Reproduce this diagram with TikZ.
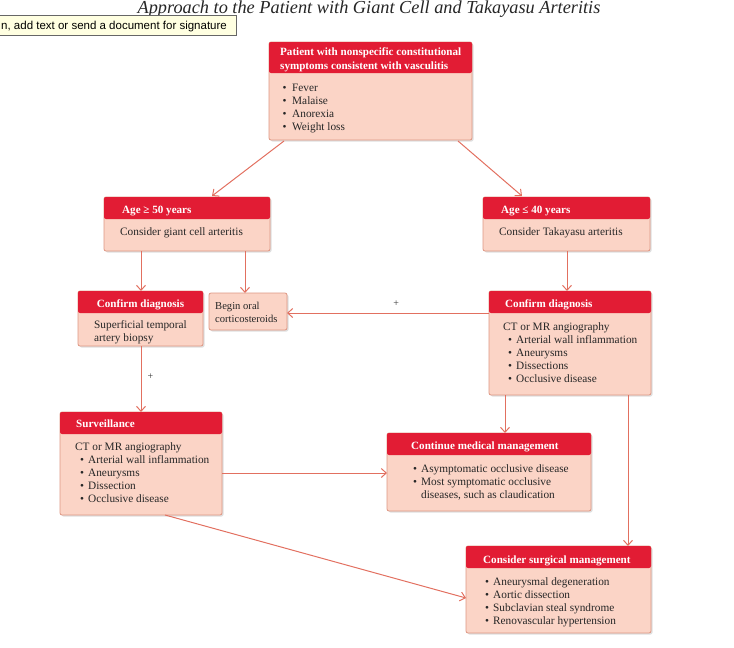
\documentclass[tikz,border=0pt]{standalone}
\usepackage{fontspec}
\setmainfont{Liberation Serif}
\newfontfamily\tipfont{Liberation Sans}
\usetikzlibrary{arrows.meta,shadows,calc}
\definecolor{hdr}{RGB}{226,28,52}
\definecolor{bodyfill}{RGB}{251,212,198}
\definecolor{bdr}{RGB}{222,150,130}
\definecolor{arr}{RGB}{226,112,96}
\definecolor{tipfill}{RGB}{255,255,225}
\newcommand\bul{\makebox[8pt][l]{\textbullet}}
\newcommand\tbul{\makebox[9.5pt][l]{\textbullet}}
\newcommand\sbul{\hspace*{5pt}\makebox[8pt][l]{\textbullet}}
% name, x, first baseline, step, style, list
\newcommand\txtlines[6]{%
  \foreach \t [count=\i from 0] in {#6} {\node[#5, anchor=base west] (#1\i) at (#2, #3+#4*\i) {\t};}}
\begin{document}
\begin{tikzpicture}[x=1pt,y=-1pt,
 box/.style={draw=bdr, fill=bodyfill, rounded corners=2pt, anchor=north west, inner sep=0pt, outer sep=0pt, line width=0.8pt, drop shadow={opacity=0.25,shadow xshift=1.5pt,shadow yshift=-1.5pt}},
 hdrbox/.style={fill=hdr, rounded corners=2pt, anchor=north west, inner sep=0pt, outer sep=0pt},
 htext/.style={text=white, font=\bfseries\fontsize{11.1}{14}\selectfont, inner sep=0pt},
 btext/.style={text=black!85, font=\fontsize{11.3}{13.2}\selectfont, inner sep=0pt},
 conn/.style={draw=arr, line width=1pt, -{Straight Barb[length=5pt,width=9pt]}},
 plus/.style={font=\fontsize{10}{10}\selectfont, text=black!80, inner sep=0pt},
]
\useasboundingbox (0,0) rectangle (734,648);
\clip (0,0) rectangle (734,648);
% title
\node[font=\itshape\fontsize{18.3}{18}\selectfont, anchor=base, inner sep=0pt, text=black!85] (title) at (369,13) {Approach to the Patient with Giant Cell and Takayasu Arteritis};
% tooltip
\node[draw=black!60, fill=tipfill, anchor=north west, minimum width=238pt, minimum height=20pt, inner sep=0pt, drop shadow={opacity=0.2,shadow xshift=1pt,shadow yshift=-1pt}] (tip) at (-2,15) {};
\node[font=\tipfont\fontsize{11.5}{12}\selectfont, anchor=base west, inner sep=0pt] (tiptext) at (1,29) {n, add text or send a document for signature};

% top box
\node[box, minimum width=203pt, minimum height=98pt] (top) at (269,42) {};
\node[hdrbox, minimum width=203pt, minimum height=31pt] (toph) at (269,42) {};
\txtlines{topht}{280}{55}{14}{htext}{Patient with nonspecific constitutional, symptoms consistent with vasculitis}
\txtlines{topb}{282.5}{91}{13}{btext}{\tbul Fever, \tbul Malaise, \tbul Anorexia, \tbul Weight loss}

% age >= 50
\node[box, minimum width=166pt, minimum height=54pt] (a50) at (104,197) {};
\node[hdrbox, minimum width=166pt, minimum height=22pt] (a50h) at (104,197) {};
\node[htext, anchor=base west] (a50ht) at (122,213) {Age ≥ 50 years};
\node[btext, anchor=base west] (a50b) at (120,235.5) {Consider giant cell arteritis};

% age <= 40
\node[box, minimum width=167pt, minimum height=54pt] (a40) at (483,197) {};
\node[hdrbox, minimum width=167pt, minimum height=22pt] (a40h) at (483,197) {};
\node[htext, anchor=base west] (a40ht) at (501,213) {Age ≤ 40 years};
\node[btext, anchor=base west] (a40b) at (499,235.5) {Consider Takayasu arteritis};

% confirm left
\node[box, minimum width=125pt, minimum height=55pt] (cdl) at (78,291) {};
\node[hdrbox, minimum width=125pt, minimum height=22pt] (cdlh) at (78,291) {};
\node[htext, anchor=base] (cdlht) at (140.5,307) {Confirm diagnosis};
\txtlines{cdlb}{94}{328}{13.2}{btext}{Superficial temporal, artery biopsy}

% begin oral
\node[box, minimum width=78pt, minimum height=37pt] (oral) at (209,293) {};
\txtlines{oralb}{215}{309}{13}{btext, font=\fontsize{10.6}{12}\selectfont}{Begin oral, corticosteroids}

% confirm right
\node[box, minimum width=162pt, minimum height=104pt] (cdr) at (489,291) {};
\node[hdrbox, minimum width=162pt, minimum height=22pt] (cdrh) at (489,291) {};
\node[htext, anchor=base west] (cdrht) at (505,307) {Confirm diagnosis};
\txtlines{cdrb}{503}{330}{13.2}{btext}{CT or MR angiography, \sbul Arterial wall inflammation, \sbul Aneurysms, \sbul Dissections, \sbul Occlusive disease}

% surveillance
\node[box, minimum width=162pt, minimum height=103pt] (surv) at (60,412) {};
\node[hdrbox, minimum width=162pt, minimum height=22pt] (survh) at (60,412) {};
\node[htext, anchor=base west] (survht) at (76,427) {Surveillance};
\txtlines{survb}{75}{450}{13.2}{btext}{CT or MR angiography, \sbul Arterial wall inflammation, \sbul Aneurysms, \sbul Dissection, \sbul Occlusive disease}

% continue medical
\node[box, minimum width=204pt, minimum height=78pt] (cmm) at (387,433) {};
\node[hdrbox, minimum width=204pt, minimum height=22pt] (cmmh) at (387,433) {};
\node[htext, anchor=base west] (cmmht) at (411,449) {Continue medical management};
\txtlines{cmmb}{413}{472}{13}{btext}{\bul Asymptomatic occlusive disease, \bul Most symptomatic occlusive, {\hspace*{8pt}diseases, such as claudication}}

% surgical
\node[box, minimum width=185pt, minimum height=87pt] (csm) at (466,546) {};
\node[hdrbox, minimum width=185pt, minimum height=22pt] (csmh) at (466,546) {};
\node[htext, anchor=base west] (csmht) at (483,563) {Consider surgical management};
\txtlines{csmb}{485}{585}{13.3}{btext}{\bul Aneurysmal degeneration, \bul Aortic dissection, \bul Subclavian steal syndrome, \bul Renovascular hypertension}

% connectors
\draw[conn] ($(top.south west)+(15,1)$) -- ($(a50.north west)+(108,-1)$);
\draw[conn] ($(top.south west)+(189,1)$) -- ($(a40.north west)+(39,-1)$);
\draw[conn] ($(a50.south west)+(37,0)$) -- ($(cdl.north west)+(63,0)$);
\draw[conn] ($(a50.south west)+(141,0)$) -- ($(oral.north west)+(36,0)$);
\draw[conn] ($(a40.south west)+(84,0)$) -- ($(cdr.north west)+(78,0)$);
\draw[conn] ($(cdr.north west)+(0,22)$) -- ($(oral.north east)+(0,20)$) node[plus, pos=0.46, above=6pt] (p1) {+};
\draw[conn] ($(cdl.south west)+(63,0)$) -- ($(surv.north west)+(81,0)$) node[plus, pos=0.47, right=6pt] (p2) {+};
\draw[conn] ($(cdr.south west)+(16,0)$) -- ($(cmm.north west)+(118,0)$);
\draw[conn] ($(cdr.south west)+(139,0)$) -- ($(csm.north west)+(162,0)$);
\draw[conn] ($(surv.north east)+(0,61)$) -- ($(cmm.north west)+(0,40)$);
\draw[conn] ($(surv.south west)+(105,0)$) -- ($(csm.north west)+(0,52)$);
\end{tikzpicture}
\end{document}
